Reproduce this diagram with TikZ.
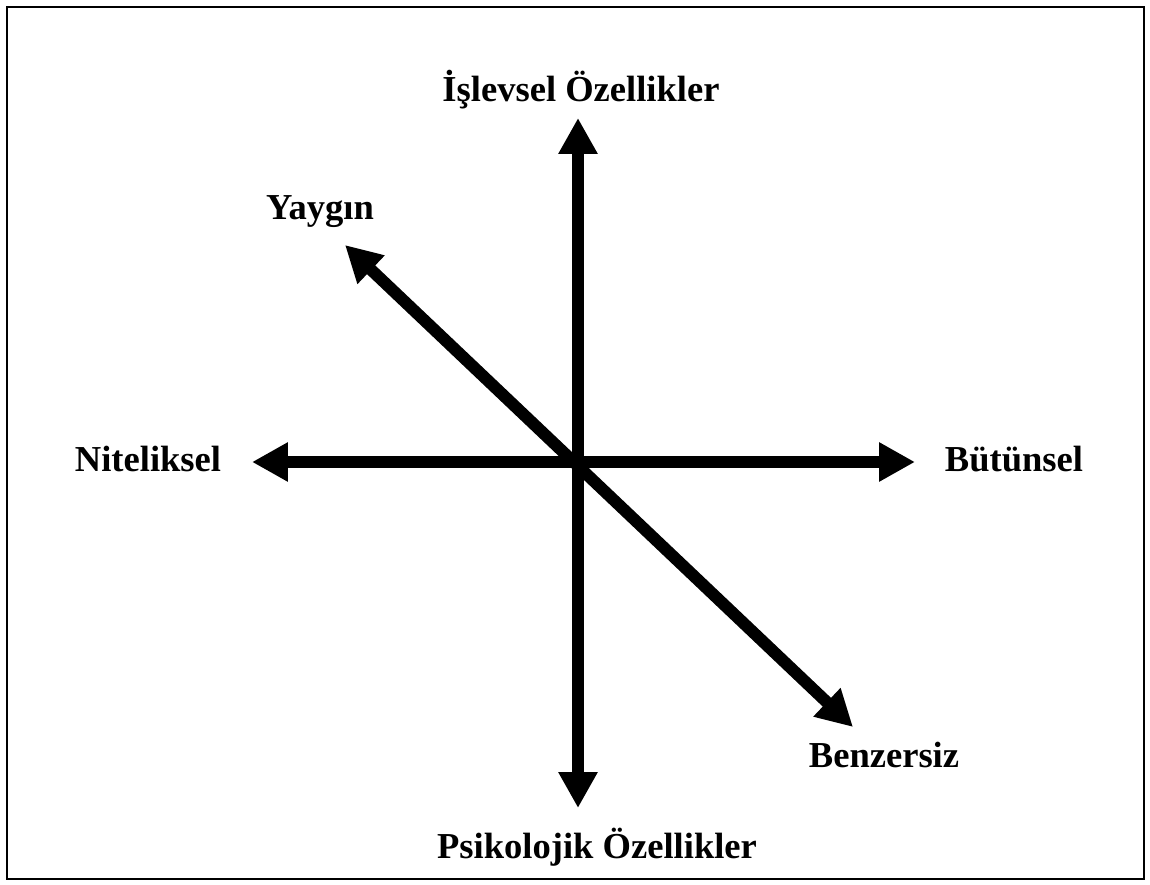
\documentclass[tikz,border=0pt]{standalone}
\usepackage{fontspec}
\setmainfont{Liberation Serif}
\usepackage{tikz}
\usetikzlibrary{arrows.meta, positioning}

\begin{document}
\begin{tikzpicture}[
  x=0.02cm, y=-0.02cm,
  axis/.style={line width=0.24cm, {Triangle[length=0.72cm, width=0.74cm]}-{Triangle[length=0.72cm, width=0.74cm]}},
  lbl/.style={font=\fontsize{20.8}{24}\selectfont\bfseries, inner sep=0pt}
]
\useasboundingbox (0,0) rectangle (1150,885);
\draw[line width=0.04cm] (7,7) rectangle (1144,879);

% Arrow ends
\coordinate (top) at (578,118);
\coordinate (bottom) at (578,808);
\coordinate (left) at (252,462);
\coordinate (right) at (915,462);
\coordinate (nw) at (345,245);
\coordinate (se) at (853,727);

% Labels
\node[lbl] (islevsel) at (581,90) {İşlevsel Özellikler};
\node[lbl] (psikolojik) at (597,847) {Psikolojik Özellikler};
\node[lbl] (niteliksel) at (148,459) {Niteliksel};
\node[lbl] (butunsel) at (1014,459) {Bütünsel};
\node[lbl] (yaygin) at (320,212) {Yaygın};
\node[lbl] (benzersiz) at (884,755) {Benzersiz};

% Axes
\draw[axis] (top) -- (bottom);
\draw[axis] (left) -- (right);
\draw[axis] (nw) -- (se);

\end{tikzpicture}
\end{document}
